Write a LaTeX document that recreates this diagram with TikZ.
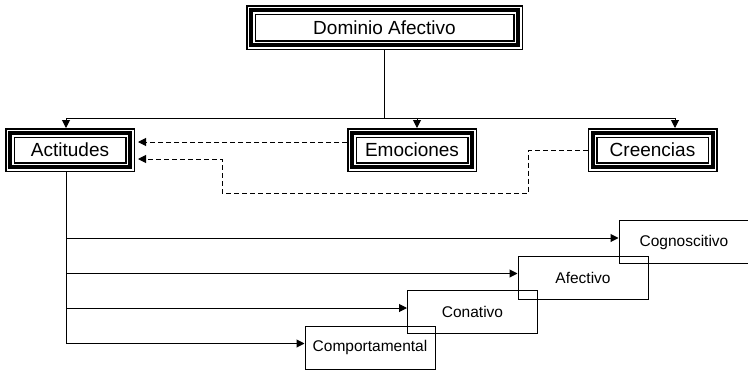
\documentclass[tikz,border=0pt]{standalone}
\usepackage{fontspec}
\setmainfont{Liberation Sans}
\usetikzlibrary{arrows.meta}

\begin{document}
\begin{tikzpicture}[x=1pt,y=-1pt,
    dblbox/.style={minimum width=120pt, minimum height=34pt, inner sep=0pt,
      outer sep=5pt, font=\fontsize{19}{22}\selectfont,
      preaction={draw=black, line width=10pt},
      preaction={draw=white, line width=7pt},
      draw=black, line width=4pt},
    thinbox/.style={draw, line width=1pt, minimum width=130pt,
      minimum height=43pt, inner sep=0pt, font=\fontsize{15.5}{18}\selectfont},
    arr/.style={line width=1pt, -{Triangle[length=8pt,width=8pt]}},
    dsh/.style={arr, dash pattern=on 5pt off 3pt}]

  \useasboundingbox (0,0) rectangle (748,370);

  % Dominio
  \node[dblbox, minimum width=267pt, minimum height=35pt] (dom) at (384.5,27.5) {Dominio Afectivo};

  % first level
  \node[dblbox] (act) at (70,150) {Actitudes};
  \node[dblbox] (emo) at (412,150) {Emociones};
  \node[dblbox] (cre) at (652.5,150) {Creencias};

  % components
  \node[thinbox] (cog) at (684,242) {Cognoscitivo};
  \node[thinbox] (afe) at (583,277.5) {Afectivo};
  \node[thinbox] (con) at (472.5,312) {Conativo};
  \node[thinbox] (comp) at (370,347.5) {Comportamental};

  % top tree
  \coordinate (barL) at (66,118);
  \coordinate (barR) at (675,118);
  \draw[line width=1pt] (dom.south) -- (dom.south |- barL);
  \draw[line width=1pt] (barL) -- (barR);
  \draw[arr] (barL) -- ([xshift=-4pt]act.north);
  \draw[arr] ([xshift=5pt]emo.north |- barL) -- ([xshift=5pt]emo.north);
  \draw[arr] (barR) -- ([xshift=22.5pt]cre.north);

  % dashed links
  \coordinate (lowA) at (528,193);
  \coordinate (lowB) at (222,193);
  \draw[dsh, shorten >=3pt] ([yshift=8pt]emo.west) -- ([yshift=8pt]act.east);
  \draw[dsh, shorten >=3pt] (cre.west) -| (lowA) -- (lowB) |- ([yshift=-9pt]act.east);

  % Actitudes branches
  \draw[arr] ([xshift=-4pt]act.south) |- ([yshift=4pt]cog.west);
  \draw[arr] ([xshift=-4pt]act.south) |- ([yshift=4pt]afe.west);
  \draw[arr] ([xshift=-4pt]act.south) |- ([yshift=4pt]con.west);
  \draw[arr] ([xshift=-4pt]act.south) |- ([yshift=4pt]comp.west);

\end{tikzpicture}
\end{document}
